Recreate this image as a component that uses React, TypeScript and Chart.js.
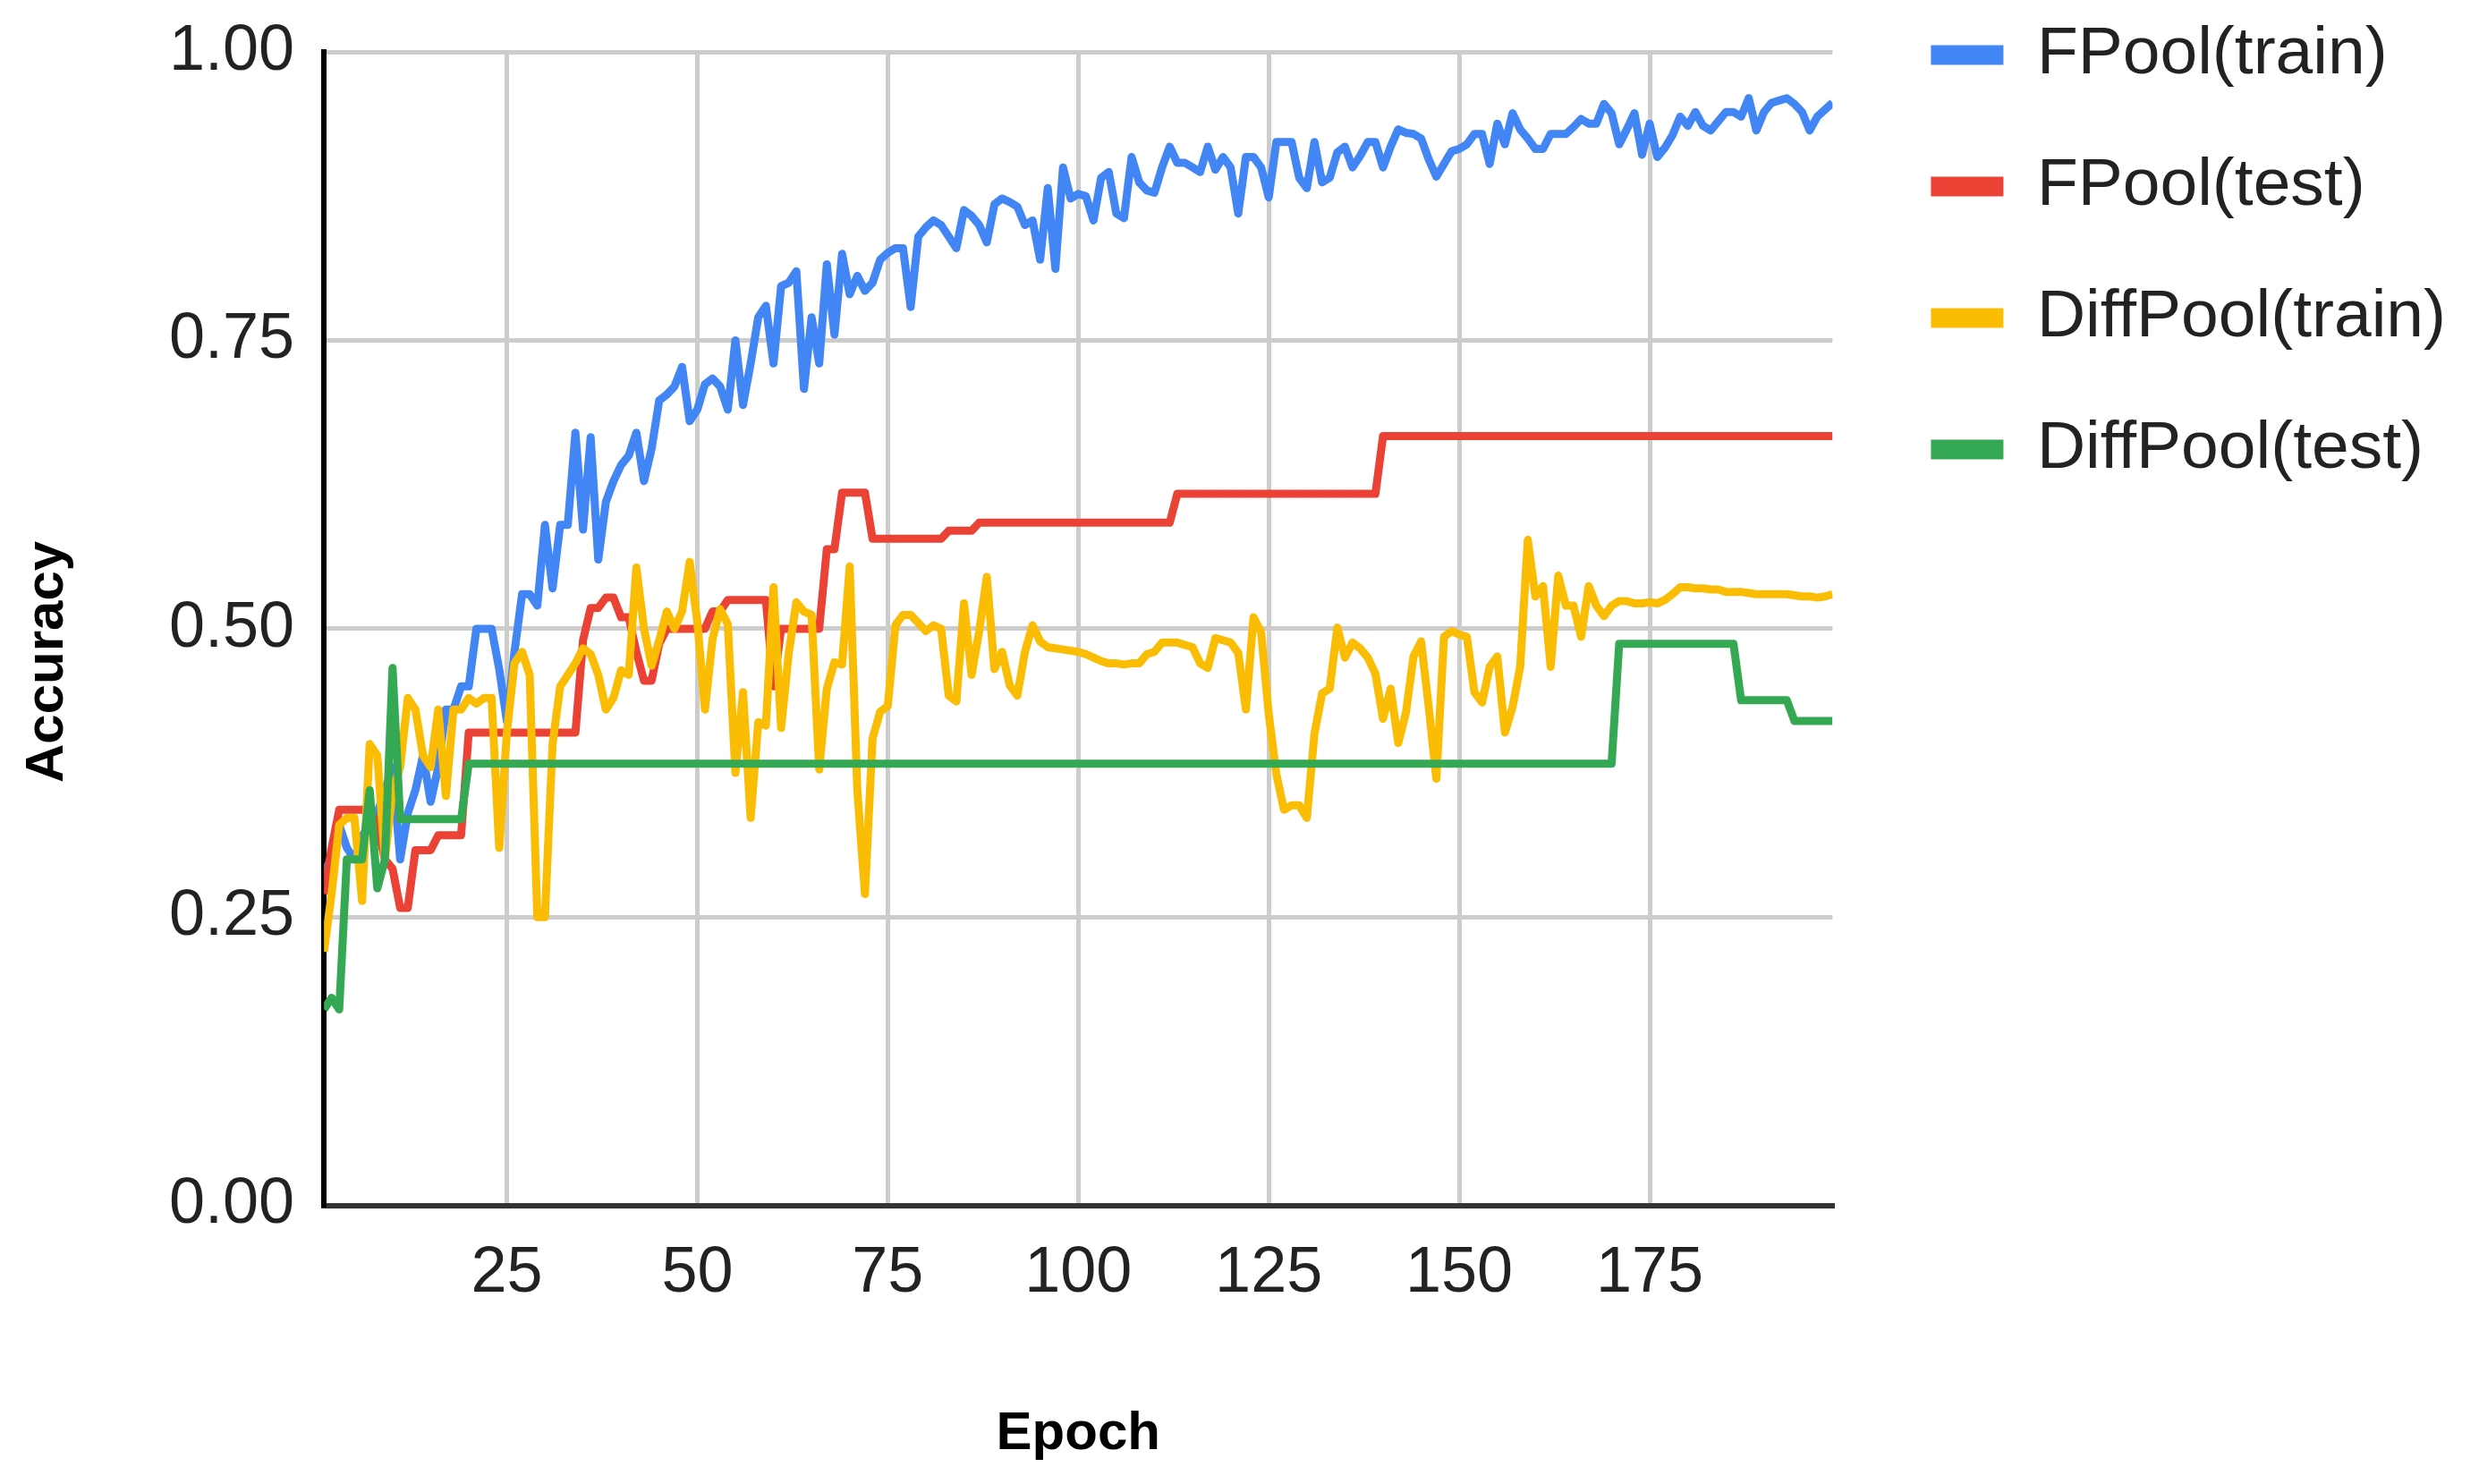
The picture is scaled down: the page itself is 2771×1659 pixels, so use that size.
import React, { useEffect, useRef } from "react";
import { Chart, registerables } from "chart.js";

Chart.register(...registerables);

// ---- data (epochs 1..199) ----
const fpoolTrain: number[] = [
  0.29, 0.30, 0.33, 0.31, 0.30, 0.32, 0.33, 0.34, 0.36, 0.38,
  0.30, 0.34, 0.36, 0.39, 0.35, 0.38, 0.43, 0.43, 0.45, 0.45,
  0.50, 0.50, 0.50, 0.465, 0.42, 0.48, 0.53, 0.53, 0.52, 0.59,
  0.535, 0.59, 0.59, 0.67, 0.586, 0.666, 0.56, 0.61, 0.628, 0.642,
  0.65, 0.67, 0.628, 0.656, 0.698, 0.703, 0.71, 0.727, 0.68, 0.69,
  0.712, 0.717, 0.71, 0.69, 0.75, 0.694, 0.73, 0.77, 0.78, 0.73,
  0.797, 0.80, 0.81, 0.708, 0.77, 0.73, 0.816, 0.755, 0.825, 0.79,
  0.806, 0.793, 0.80, 0.82, 0.826, 0.83, 0.83, 0.779, 0.84, 0.848,
  0.854, 0.85, 0.84, 0.83, 0.863, 0.858, 0.85, 0.835, 0.868, 0.873,
  0.87, 0.866, 0.85, 0.854, 0.82, 0.882, 0.812, 0.90, 0.873, 0.877,
  0.875, 0.854, 0.891, 0.896, 0.86, 0.856, 0.909, 0.887, 0.88, 0.878,
  0.90, 0.918, 0.904, 0.904, 0.90, 0.896, 0.918, 0.898, 0.909, 0.90,
  0.86, 0.909, 0.909, 0.90, 0.874, 0.922, 0.922, 0.922, 0.891, 0.882,
  0.922, 0.887, 0.891, 0.913, 0.918, 0.90, 0.91, 0.922, 0.922, 0.90,
  0.918, 0.933, 0.93, 0.929, 0.925, 0.907, 0.892, 0.903, 0.914, 0.916,
  0.92, 0.929, 0.929, 0.903, 0.938, 0.92, 0.947, 0.933, 0.925, 0.916,
  0.916, 0.929, 0.929, 0.929, 0.935, 0.942, 0.938, 0.938, 0.955, 0.947,
  0.92, 0.933, 0.947, 0.911, 0.938, 0.909, 0.917, 0.928, 0.944, 0.936,
  0.948, 0.936, 0.932, 0.94, 0.948, 0.948, 0.944, 0.96, 0.932, 0.948,
  0.956, 0.958, 0.96, 0.955, 0.948, 0.932, 0.944, 0.95, 0.956,
];

const fpoolTest: number[] = [
  0.27, 0.31, 0.343, 0.343, 0.343, 0.343, 0.343, 0.33, 0.30, 0.292,
  0.258, 0.258, 0.308, 0.308, 0.308, 0.321, 0.321, 0.321, 0.321, 0.41,
  0.41, 0.41, 0.41, 0.41, 0.41, 0.41, 0.41, 0.41, 0.41, 0.41,
  0.41, 0.41, 0.41, 0.41, 0.49, 0.518, 0.518, 0.527, 0.527, 0.51,
  0.51, 0.48, 0.455, 0.455, 0.487, 0.5, 0.5, 0.5, 0.5, 0.5,
  0.5, 0.515, 0.515, 0.525, 0.525, 0.525, 0.525, 0.525, 0.525, 0.45,
  0.5, 0.5, 0.5, 0.5, 0.5, 0.5, 0.569, 0.569, 0.618, 0.618,
  0.618, 0.618, 0.578, 0.578, 0.578, 0.578, 0.578, 0.578, 0.578, 0.578,
  0.578, 0.578, 0.585, 0.585, 0.585, 0.585, 0.592, 0.592, 0.592, 0.592,
  0.592, 0.592, 0.592, 0.592, 0.592, 0.592, 0.592, 0.592, 0.592, 0.592,
  0.592, 0.592, 0.592, 0.592, 0.592, 0.592, 0.592, 0.592, 0.592, 0.592,
  0.592, 0.592, 0.617, 0.617, 0.617, 0.617, 0.617, 0.617, 0.617, 0.617,
  0.617, 0.617, 0.617, 0.617, 0.617, 0.617, 0.617, 0.617, 0.617, 0.617,
  0.617, 0.617, 0.617, 0.617, 0.617, 0.617, 0.617, 0.617, 0.617, 0.667,
  0.667, 0.667, 0.667, 0.667, 0.667, 0.667, 0.667, 0.667, 0.667, 0.667,
  0.667, 0.667, 0.667, 0.667, 0.667, 0.667, 0.667, 0.667, 0.667, 0.667,
  0.667, 0.667, 0.667, 0.667, 0.667, 0.667, 0.667, 0.667, 0.667, 0.667,
  0.667, 0.667, 0.667, 0.667, 0.667, 0.667, 0.667, 0.667, 0.667, 0.667,
  0.667, 0.667, 0.667, 0.667, 0.667, 0.667, 0.667, 0.667, 0.667, 0.667,
  0.667, 0.667, 0.667, 0.667, 0.667, 0.667, 0.667, 0.667, 0.667,
];

const diffpoolTrain: number[] = [
  0.22, 0.27, 0.33, 0.336, 0.336, 0.264, 0.40, 0.39, 0.30, 0.36,
  0.38, 0.44, 0.43, 0.39, 0.38, 0.43, 0.355, 0.43, 0.43, 0.44,
  0.435, 0.44, 0.44, 0.31, 0.41, 0.47, 0.48, 0.46, 0.25, 0.25,
  0.40, 0.45, 0.46, 0.47, 0.483, 0.478, 0.46, 0.43, 0.44, 0.464,
  0.46, 0.553, 0.50, 0.468, 0.49, 0.515, 0.50, 0.515, 0.558, 0.506,
  0.43, 0.491, 0.517, 0.504, 0.375, 0.445, 0.336, 0.419, 0.416, 0.536,
  0.414, 0.479, 0.523, 0.515, 0.512, 0.378, 0.448, 0.471, 0.469, 0.554,
  0.36, 0.27, 0.405, 0.428, 0.433, 0.503, 0.512, 0.512, 0.505, 0.498,
  0.503, 0.50, 0.442, 0.437, 0.522, 0.46, 0.498, 0.545, 0.465, 0.48,
  0.451, 0.442, 0.48, 0.503, 0.489, 0.484, 0.483, 0.482, 0.481, 0.48,
  0.478, 0.475, 0.472, 0.47, 0.47, 0.469, 0.47, 0.47, 0.478, 0.48,
  0.488, 0.488, 0.488, 0.486, 0.484, 0.47, 0.466, 0.492, 0.49, 0.488,
  0.479, 0.43, 0.51, 0.497, 0.426, 0.374, 0.343, 0.347, 0.347, 0.336,
  0.409, 0.444, 0.448, 0.501, 0.475, 0.488, 0.483, 0.475, 0.461, 0.422,
  0.448, 0.401, 0.427, 0.476, 0.489, 0.432, 0.37, 0.493, 0.498, 0.495,
  0.493, 0.445, 0.436, 0.467, 0.476, 0.41, 0.432, 0.467, 0.577, 0.528,
  0.537, 0.467, 0.546, 0.52, 0.52, 0.493, 0.537, 0.52, 0.511, 0.52,
  0.524, 0.524, 0.522, 0.522, 0.523, 0.522, 0.525, 0.53, 0.536, 0.536,
  0.535, 0.535, 0.534, 0.534, 0.532, 0.532, 0.532, 0.531, 0.53, 0.53,
  0.53, 0.53, 0.53, 0.529, 0.528, 0.528, 0.527, 0.528, 0.53,
];

const diffpoolTest: number[] = [
  0.17, 0.18, 0.17, 0.30, 0.30, 0.30, 0.36, 0.275, 0.30, 0.466,
  0.335, 0.335, 0.335, 0.335, 0.335, 0.335, 0.335, 0.335, 0.335, 0.383,
  0.383, 0.383, 0.383, 0.383, 0.383, 0.383, 0.383, 0.383, 0.383, 0.383,
  0.383, 0.383, 0.383, 0.383, 0.383, 0.383, 0.383, 0.383, 0.383, 0.383,
  0.383, 0.383, 0.383, 0.383, 0.383, 0.383, 0.383, 0.383, 0.383, 0.383,
  0.383, 0.383, 0.383, 0.383, 0.383, 0.383, 0.383, 0.383, 0.383, 0.383,
  0.383, 0.383, 0.383, 0.383, 0.383, 0.383, 0.383, 0.383, 0.383, 0.383,
  0.383, 0.383, 0.383, 0.383, 0.383, 0.383, 0.383, 0.383, 0.383, 0.383,
  0.383, 0.383, 0.383, 0.383, 0.383, 0.383, 0.383, 0.383, 0.383, 0.383,
  0.383, 0.383, 0.383, 0.383, 0.383, 0.383, 0.383, 0.383, 0.383, 0.383,
  0.383, 0.383, 0.383, 0.383, 0.383, 0.383, 0.383, 0.383, 0.383, 0.383,
  0.383, 0.383, 0.383, 0.383, 0.383, 0.383, 0.383, 0.383, 0.383, 0.383,
  0.383, 0.383, 0.383, 0.383, 0.383, 0.383, 0.383, 0.383, 0.383, 0.383,
  0.383, 0.383, 0.383, 0.383, 0.383, 0.383, 0.383, 0.383, 0.383, 0.383,
  0.383, 0.383, 0.383, 0.383, 0.383, 0.383, 0.383, 0.383, 0.383, 0.383,
  0.383, 0.383, 0.383, 0.383, 0.383, 0.383, 0.383, 0.383, 0.383, 0.383,
  0.383, 0.383, 0.383, 0.383, 0.383, 0.383, 0.383, 0.383, 0.383, 0.383,
  0.487, 0.487, 0.487, 0.487, 0.487, 0.487, 0.487, 0.487, 0.487, 0.487,
  0.487, 0.487, 0.487, 0.487, 0.487, 0.487, 0.438, 0.438, 0.438, 0.438,
  0.438, 0.438, 0.438, 0.42, 0.42, 0.42, 0.42, 0.42, 0.42,
];

const epochs: number[] = fpoolTrain.map((_, i) => i + 1);
const xTickValues: number[] = [25, 50, 75, 100, 125, 150, 175];
const yTickStep = 0.25;

const seriesNames = ["FPool(train)", "FPool(test)", "DiffPool(train)", "DiffPool(test)"];
const seriesColors = ["#4285F4", "#EA4335", "#FBBC04", "#34A853"];
const xTitle = "Epoch";
const yTitle = "Accuracy";

const FONT = "'Liberation Sans', Arial, Helvetica, sans-serif";

// y-axis title drawn slightly below the plot centre, as in the reference
const yTitlePlugin = {
  id: "yTitleOffset",
  afterDraw(chart: any) {
    const { ctx, chartArea, scales } = chart;
    ctx.save();
    ctx.font = `bold 60px ${FONT}`;
    ctx.fillStyle = "#000000";
    ctx.textAlign = "center";
    ctx.textBaseline = "middle";
    ctx.translate(scales.y.left + 53, (chartArea.top + chartArea.bottom) / 2 + 37);
    ctx.rotate(-Math.PI / 2);
    ctx.fillText(yTitle, 0, 0);
    ctx.restore();
  },
};

export default function App() {
  const canvasRef = useRef<HTMLCanvasElement | null>(null);

  useEffect(() => {
    if (!canvasRef.current) return;
    const seriesData = [fpoolTrain, fpoolTest, diffpoolTrain, diffpoolTest];
    const chart = new Chart(canvasRef.current, {
      type: "line",
      data: {
        labels: epochs,
        datasets: seriesData.map((d, i) => ({
          label: seriesNames[i],
          data: d,
          borderColor: seriesColors[i],
          backgroundColor: seriesColors[i],
          borderWidth: 9,
          pointRadius: 0,
          pointHoverRadius: 0,
          tension: 0,
          fill: false,
          borderJoinStyle: "round" as const,
          order: 4 - i,
        })),
      },
      plugins: [yTitlePlugin],
      options: {
        responsive: false,
        animation: false,
        devicePixelRatio: 1,
        layout: { padding: { top: -48, left: 0, right: 0, bottom: 0 } },
        plugins: {
          legend: {
            position: "right",
            align: "start",
            maxWidth: 1000,
            labels: {
              boxWidth: 81,
              boxHeight: 22,
              padding: 72,
              color: "#222222",
              font: { family: FONT, size: 75 },
              sort: (a: any, b: any) => a.datasetIndex - b.datasetIndex,
              generateLabels: (ch: any) =>
                (Chart.defaults.plugins.legend.labels.generateLabels as any)(ch).map((l: any) => ({
                  ...l,
                  lineWidth: 0,
                  fillStyle: l.strokeStyle,
                })),
            },
          },
          tooltip: { enabled: false },
        },
        scales: {
          x: {
            type: "linear",
            min: 1,
            max: 199,
            afterBuildTicks: (scale: any) => {
              scale.ticks = xTickValues.map((v) => ({ value: v }));
            },
            grid: { color: "#cccccc", lineWidth: 5, drawTicks: false },
            border: { display: true, color: "#333333", width: 6 },
            ticks: {
              autoSkip: false,
              maxRotation: 0,
              padding: 33,
              color: "#222222",
              font: { family: FONT, size: 72, lineHeight: 1.2 },
              callback: (v: any) => String(v),
            },
            title: {
              display: true,
              text: xTitle,
              color: "#000000",
              font: { family: FONT, size: 60, weight: "bold", lineHeight: 1.2 },
              padding: { top: 67, bottom: 20 },
            },
          },
          y: {
            type: "linear",
            min: 0,
            max: 1,
            afterFit: (scale: any) => {
              scale.width += 156;
            },
            ticks: {
              stepSize: yTickStep,
              padding: 33,
              color: "#222222",
              font: { family: FONT, size: 72, lineHeight: 0.7 },
              callback: (v: any) => Number(v).toFixed(2),
            },
            grid: { color: "#cccccc", lineWidth: 5, drawTicks: false },
            border: { display: true, color: "#000000", width: 6 },
            title: { display: false },
          },
          yPad: {
            type: "linear",
            position: "right",
            display: true,
            grid: { display: false, drawTicks: false },
            border: { display: false },
            ticks: { display: false },
            afterFit: (scale: any) => {
              scale.width = 38;
            },
          },
        },
      } as any,
    });
    return () => chart.destroy();
  }, []);

  return (
    <div
      style={{
        position: "fixed",
        left: 0,
        top: 0,
        width: 2771,
        height: 1659,
        overflow: "hidden",
        background: "#ffffff",
      }}
    >
      <canvas ref={canvasRef} width={2744} height={1659} style={{ display: "block" }} />
    </div>
  );
}
